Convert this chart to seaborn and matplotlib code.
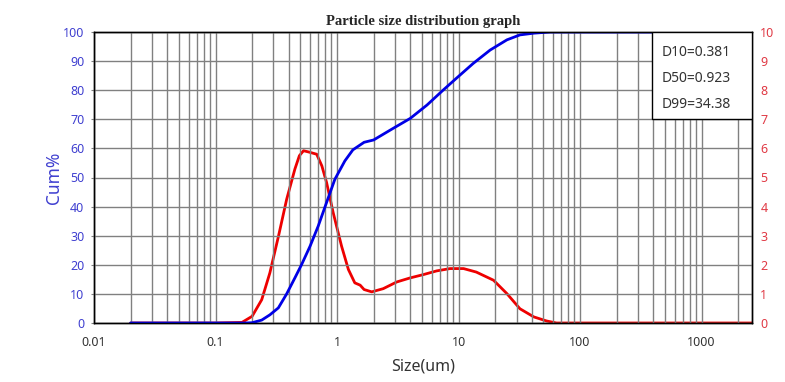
import numpy as np
import pandas as pd
import matplotlib
matplotlib.use("Agg")
import matplotlib.pyplot as plt
from matplotlib.patches import Rectangle
from matplotlib.ticker import FixedLocator, LogLocator, NullFormatter, FuncFormatter
import seaborn as sns

# Datos
size_cum = [0.02, 0.1, 0.175, 0.2, 0.24, 0.28, 0.329, 0.385, 0.45, 0.51, 0.6, 0.70,
            0.82, 0.96, 1.16, 1.35, 1.67, 2.0, 2.9, 4.0, 5.5, 7.5, 9.6, 13.2, 18.2,
            25, 32, 41.6, 57, 2600]
cum_pct = [0, 0, 0, 0.1, 1.0, 2.8, 5.2, 10.0, 15.5, 20, 26.4, 33.3,
           41.4, 49.4, 55.7, 59.5, 62.1, 62.9, 66.9, 70.3, 74.9, 80.1, 84.1, 89.2, 93.8,
           97.3, 99.0, 99.6, 100, 100]

size_dist = [0.02, 0.1, 0.165, 0.2, 0.24, 0.28, 0.33, 0.385, 0.45, 0.49, 0.53, 0.58,
             0.68, 0.75, 0.82, 0.93, 1.09, 1.24, 1.40, 1.55, 1.67, 1.93, 2.40, 3.1,
             4.0, 5.1, 6.6, 8.5, 11.0, 14.0, 19.4, 25, 32, 41.6, 53, 64, 2600]
dist_pct = [0, 0, 0.02, 0.23, 0.8, 1.72, 2.99, 4.25, 5.29, 5.75, 5.92, 5.88,
            5.8, 5.40, 4.83, 3.79, 2.64, 1.84, 1.38, 1.30, 1.15, 1.07, 1.18, 1.41,
            1.55, 1.66, 1.79, 1.87, 1.87, 1.75, 1.47, 1.01, 0.49, 0.21, 0.07, 0, 0]

x_ticks = [0.01, 0.1, 1, 10, 100, 1000]
d_labels = ["D10=0.381", "D50=0.923", "D99=34.38"]

df_cum = pd.DataFrame({"size": size_cum, "cum": cum_pct})
df_dist = pd.DataFrame({"size": size_dist, "dist": dist_pct})

sns.set_style("white")
plt.rcParams["font.family"] = ["Noto Sans", "DejaVu Sans"]

fig = plt.figure(figsize=(7.85, 3.82), dpi=100)
ax = fig.add_axes([94 / 785, 59 / 382, 658 / 785, 291 / 382])
ax2 = ax.twinx()

# Curva de distribucion (eje derecho) y acumulada (eje izquierdo)
sns.lineplot(data=df_dist, x="size", y="dist", ax=ax2, color="#ee0000", lw=2.0, sort=False)
sns.lineplot(data=df_cum, x="size", y="cum", ax=ax, color="#0000e6", lw=2.0, sort=False)
ax.set_zorder(ax2.get_zorder() + 1)
ax.patch.set_visible(False)

ax.set_xscale("log")
ax.set_xlim(0.01, 2600)
ax.set_ylim(0, 100)
ax2.set_ylim(0, 10)

ax.xaxis.set_major_locator(FixedLocator(x_ticks))
ax.xaxis.set_major_formatter(FuncFormatter(lambda v, p: f"{v:g}"))
ax.xaxis.set_minor_locator(LogLocator(base=10, subs=np.arange(2, 10)))
ax.xaxis.set_minor_formatter(NullFormatter())
ax.set_yticks(np.arange(0, 101, 10))
ax2.set_yticks(np.arange(0, 11, 1))

ax.grid(True, which="both", axis="x", color="#808080", lw=1.0)
ax.grid(True, which="major", axis="y", color="#808080", lw=1.0)
ax2.grid(False)

ax.tick_params(axis="x", which="both", length=0, pad=9, labelsize=9, labelcolor="#333333")
ax.tick_params(axis="y", length=2, width=0.8, color="#808080", pad=5, labelsize=9,
               labelcolor="#4040d0")
ax2.tick_params(axis="y", length=0, pad=6, labelsize=9, labelcolor="#e03a45")

for a in (ax, ax2):
    for s in a.spines.values():
        s.set_color("black")
        s.set_linewidth(1.0)

ax.set_xlabel("Size(um)", fontsize=11.5, color="#333333", labelpad=7)
ax.set_ylabel("Cum%", fontsize=12.5, color="#4040d0", labelpad=0)
ax2.set_ylabel("")

ax.set_title("Particle size distribution graph", fontsize=10.5, fontweight="bold",
             family="Liberation Serif", pad=5)

# Cuadro con los valores D
box_x = (652 - 94) / 658
box_h = (119 - 32) / 291
ax.add_patch(Rectangle((box_x, 1 - box_h), 1 - box_x, box_h, transform=ax.transAxes,
                       facecolor="white", edgecolor="black", lw=1.0, zorder=5))
for i, lab in enumerate(d_labels):
    ax.text(box_x + 10 / 658, 1 - (20 + 26 * i) / 291, lab, transform=ax.transAxes,
            fontsize=10, color="#333333", va="center", ha="left", zorder=6)

fig.savefig("out.png", dpi=100)
